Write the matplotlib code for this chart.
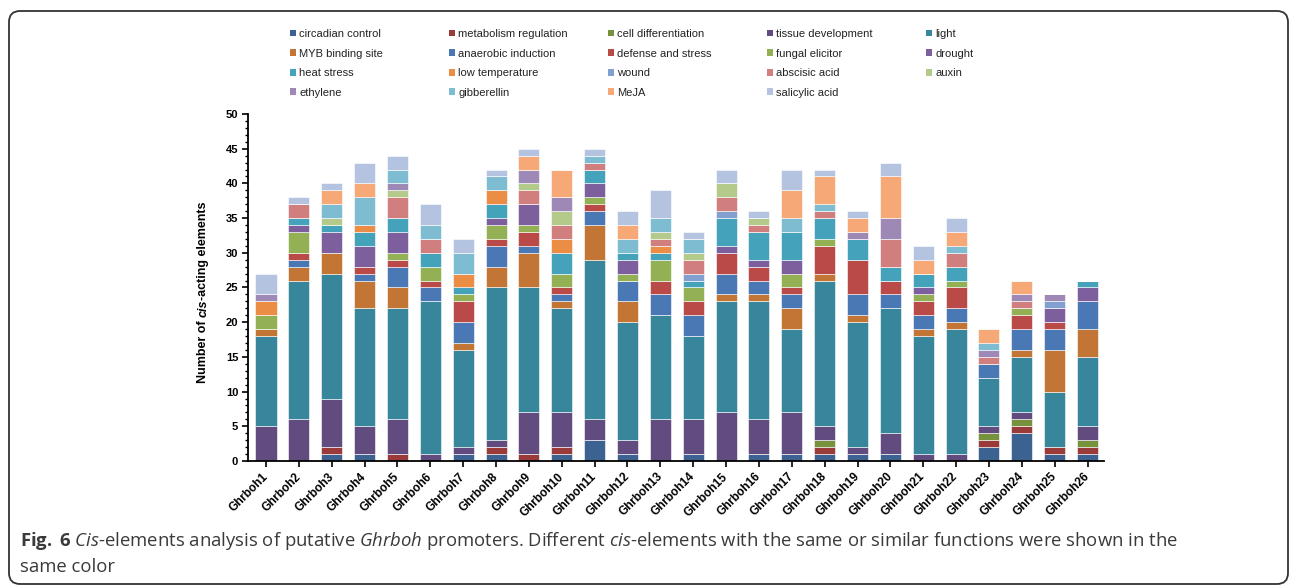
import numpy as np
import matplotlib
matplotlib.use("Agg")
import matplotlib.pyplot as plt
from matplotlib.patches import FancyBboxPatch, Patch
from matplotlib.transforms import IdentityTransform

plt.rcParams['font.family'] = 'Liberation Sans'
plt.rcParams['mathtext.fontset'] = 'custom'
plt.rcParams['mathtext.rm'] = 'Open Sans'
plt.rcParams['mathtext.it'] = 'Open Sans:italic'
plt.rcParams['mathtext.bf'] = 'Open Sans:bold'

# 基因名
genes = ['Ghrboh%d' % i for i in range(1, 27)]

# 各类顺式作用元件数目 (Ghrboh1 ... Ghrboh26)
circadian = [0, 0, 1, 1, 0, 0, 1, 1, 0, 1, 3, 1, 0, 1, 0, 1, 1, 1, 1, 1, 0, 0, 2, 4, 1, 1]
metabolism = [0, 0, 1, 0, 1, 0, 0, 1, 1, 1, 0, 0, 0, 0, 0, 0, 0, 1, 0, 0, 0, 0, 1, 1, 1, 1]
cell_diff = [0, 0, 0, 0, 0, 0, 0, 0, 0, 0, 0, 0, 0, 0, 0, 0, 0, 1, 0, 0, 0, 0, 1, 1, 0, 1]
tissue = [5, 6, 7, 4, 5, 1, 1, 1, 6, 5, 3, 2, 6, 5, 7, 5, 6, 2, 1, 3, 1, 1, 1, 1, 0, 2]
light = [13, 20, 18, 17, 16, 22, 14, 22, 18, 15, 23, 17, 15, 12, 16, 17, 12, 21, 18, 18, 17, 18, 7, 8, 8, 10]
myb = [1, 2, 3, 4, 3, 0, 1, 3, 5, 1, 5, 3, 0, 0, 1, 1, 3, 1, 1, 0, 1, 1, 0, 1, 6, 4]
anaerobic = [0, 1, 0, 1, 3, 2, 3, 3, 1, 1, 2, 3, 3, 3, 3, 2, 2, 0, 3, 2, 2, 2, 2, 3, 3, 4]
defense = [0, 1, 0, 1, 1, 1, 3, 1, 2, 1, 1, 0, 2, 2, 3, 2, 1, 4, 5, 2, 2, 3, 0, 2, 1, 0]
fungal = [2, 3, 0, 0, 1, 2, 1, 2, 1, 2, 1, 1, 3, 2, 0, 0, 2, 1, 0, 0, 1, 1, 0, 1, 0, 0]
drought = [0, 1, 3, 3, 3, 0, 0, 1, 3, 0, 2, 2, 0, 0, 1, 1, 2, 0, 0, 0, 1, 0, 0, 0, 2, 2]
heat = [0, 1, 1, 2, 2, 2, 1, 2, 0, 3, 2, 1, 1, 1, 4, 4, 4, 3, 3, 2, 2, 2, 0, 0, 0, 1]
low_temp = [2, 0, 0, 1, 0, 0, 2, 2, 0, 2, 0, 0, 1, 0, 0, 0, 0, 0, 0, 0, 0, 0, 0, 0, 0, 0]
wound = [0, 0, 0, 0, 0, 0, 0, 0, 0, 0, 0, 0, 0, 1, 1, 0, 0, 0, 0, 0, 0, 0, 0, 0, 1, 0]
abscisic = [0, 2, 0, 0, 3, 2, 0, 0, 2, 2, 1, 0, 1, 2, 2, 1, 0, 1, 0, 4, 0, 2, 1, 1, 0, 0]
auxin = [0, 0, 1, 0, 1, 0, 0, 0, 1, 2, 0, 0, 1, 1, 2, 1, 0, 0, 0, 0, 0, 0, 0, 0, 0, 0]
ethylene = [1, 0, 0, 0, 1, 0, 0, 0, 2, 2, 0, 0, 0, 0, 0, 0, 0, 0, 1, 3, 0, 0, 1, 1, 1, 0]
gibberellin = [0, 0, 2, 4, 2, 2, 3, 2, 0, 0, 1, 2, 2, 2, 0, 0, 2, 1, 0, 0, 0, 1, 1, 0, 0, 0]
meja = [0, 0, 2, 2, 0, 0, 0, 0, 2, 4, 0, 2, 0, 0, 0, 0, 4, 4, 2, 6, 2, 2, 2, 2, 0, 0]
salicylic = [3, 1, 1, 3, 2, 3, 2, 1, 1, 0, 1, 2, 4, 1, 2, 1, 3, 1, 1, 2, 2, 2, 0, 0, 0, 0]

labels = ['circadian control', 'metabolism regulation', 'cell differentiation', 'tissue development', 'light',
          'MYB binding site', 'anaerobic induction', 'defense and stress', 'fungal elicitor', 'drought',
          'heat stress', 'low temperature', 'wound', 'abscisic acid', 'auxin',
          'ethylene', 'gibberellin', 'MeJA', 'salicylic acid']
series = [circadian, metabolism, cell_diff, tissue, light,
          myb, anaerobic, defense, fungal, drought,
          heat, low_temp, wound, abscisic, auxin,
          ethylene, gibberellin, meja, salicylic]
colors = ['#3B6291', '#9A3B3A', '#77923D', '#624B7E', '#38869B',
          '#C27535', '#4A78B4', '#B94A48', '#93B055', '#7D5F9D',
          '#44A3BA', '#EC8D45', '#819FCF', '#D07F7E', '#B3CA8A',
          '#9E88B5', '#7EBDD1', '#F7A877', '#B4C4E0']

fig = plt.figure(figsize=(12.9, 5.86), dpi=100)
ax = fig.add_axes([0.1922, 0.2133, 0.6636, 0.5922])

# 堆积柱状图
x = np.arange(len(genes))
bottom = np.zeros(len(genes))
for vals, lab, c in zip(series, labels, colors):
    vals = np.array(vals)
    ax.bar(x, vals, 0.64, bottom=bottom, color=c, edgecolor='white', linewidth=0.4, label=lab)
    bottom += vals

# 坐标轴
ax.set_xlim(-0.55, 25.5)
ax.set_ylim(0, 50)
ax.set_yticks(np.arange(0, 51, 5))
ax.set_yticks(np.arange(0, 51, 1), minor=True)
ax.set_xticks(x)
ax.set_xticklabels(genes, rotation=45, ha='right', va='center', rotation_mode='anchor',
                   fontsize=8.5, fontweight='bold')
for t in ax.get_yticklabels():
    t.set_fontweight('bold')
    t.set_fontsize(8)
ax.tick_params(axis='both', which='major', direction='out', length=4, width=1.2, pad=3)
ax.tick_params(axis='y', which='minor', direction='out', length=2.5, width=1)
ax.tick_params(axis='x', pad=6)
for s in ['top', 'right']:
    ax.spines[s].set_visible(False)
for s in ['left', 'bottom']:
    ax.spines[s].set_linewidth(1.3)

# y轴标题 (cis 斜体)
t1 = fig.text(0.1575, 0.346, 'Number of', rotation=90, ha='center', va='bottom',
              fontsize=9, fontweight='bold')
t2 = ax.annotate('cis', xy=(0, 1), xycoords=t1, xytext=(0, 2.5), textcoords='offset points',
                 rotation=90, ha='left', va='bottom', fontsize=9, fontweight='bold', fontstyle='italic',
                 annotation_clip=False)
t3 = ax.annotate('-acting elements', xy=(0, 1), xycoords=t2, xytext=(0, 0), textcoords='offset points',
                 rotation=90, ha='left', va='bottom', fontsize=9, fontweight='bold',
                 annotation_clip=False)

# 图例: 五列, 每列单独放置
handles = [Patch(facecolor=c, edgecolor='none') for c in colors]
col_x = [290, 449, 608, 767, 926]
for j in range(5):
    leg = fig.legend(handles[j::5], labels[j::5], loc='upper left',
                     bbox_to_anchor=(col_x[j] / 1290, 1 - 29 / 586), frameon=False,
                     fontsize=8, borderpad=0, borderaxespad=0, handlelength=0.55, handleheight=0.55,
                     handletextpad=0.3, labelspacing=0.86)
    for txt in leg.get_texts():
        txt.set_color('#222222')

# 图注
cap1 = (r'$\bf{Fig.}$ $\bf{6}$ $\it{Cis}$-elements analysis of putative $\it{Ghrboh}$ promoters. '
        r'Different $\it{cis}$-elements with the same or similar functions were shown in the')
fig.text(20 / 1290, 1 - 546 / 586, cap1, fontsize=13.3, family='Open Sans', color='#3a3a3a',
         ha='left', va='baseline')
fig.text(20 / 1290, 1 - 572 / 586, 'same color', fontsize=13.3, family='Open Sans', color='#3a3a3a',
         ha='left', va='baseline')

# 圆角边框
box = FancyBboxPatch((9, 2), 1279, 573, boxstyle='round,pad=0,rounding_size=11',
                     transform=IdentityTransform(), facecolor='none', edgecolor='#333333', linewidth=1.3)
fig.add_artist(box)

plt.savefig('out.png', dpi=100)
